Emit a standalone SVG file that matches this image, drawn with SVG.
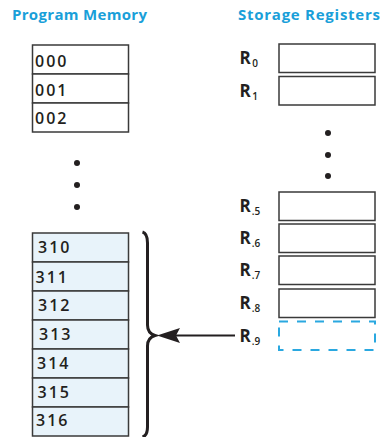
<svg xmlns="http://www.w3.org/2000/svg" width="382" height="437" viewBox="0 0 382 437">
<style>
.title{font-family:"Open Sans","Liberation Sans",sans-serif;font-weight:700;font-size:15px;fill:#1a9fd9}
.cell{fill:#ffffff;stroke:#3a3a3a;stroke-width:1.5}
.cellb{fill:#e8f3fa;stroke:#3a3a3a;stroke-width:1.5}
.num{font-family:"Open Sans","Liberation Sans",sans-serif;font-weight:600;font-size:16px;fill:#231f20;letter-spacing:2px}
.reg{font-family:"Open Sans","Liberation Sans",sans-serif;font-weight:700;font-size:17px;fill:#231f20}
.sub{font-size:10px;font-weight:600}
.dash{fill:none;stroke:#2aa8e0;stroke-width:2;stroke-dasharray:9 9}
.dot{fill:#231f20}
</style>
<text class="title" x="12" y="19.5" textLength="135" lengthAdjust="spacing">Program Memory</text>
<text class="title" x="238" y="19.5" textLength="142" lengthAdjust="spacing">Storage Registers</text>

<g id="pm-top">
<rect class="cell" x="32.5" y="45" width="96" height="29"/>
<rect class="cell" x="32.5" y="74" width="96" height="29"/>
<rect class="cell" x="32.5" y="103" width="96" height="29"/>
<text class="num" x="35" y="66.5">000</text>
<text class="num" x="35" y="95.5">001</text>
<text class="num" x="35" y="124">002</text>
</g>
<g id="pm-dots">
<circle class="dot" cx="77" cy="163" r="3"/>
<circle class="dot" cx="77" cy="185" r="3"/>
<circle class="dot" cx="77" cy="207" r="3"/>
</g>
<g id="pm-bottom">
<rect class="cellb" x="32.5" y="233" width="96" height="29"/>
<rect class="cellb" x="32.5" y="262" width="96" height="29"/>
<rect class="cellb" x="32.5" y="291" width="96" height="29"/>
<rect class="cellb" x="32.5" y="320" width="96" height="29"/>
<rect class="cellb" x="32.5" y="349" width="96" height="29"/>
<rect class="cellb" x="32.5" y="378" width="96" height="29"/>
<rect class="cellb" x="32.5" y="407" width="96" height="29"/>
<text class="num" x="38" y="253">310</text>
<text class="num" x="35.5" y="282.5">311</text>
<text class="num" x="38" y="311">312</text>
<text class="num" x="39" y="339.5">313</text>
<text class="num" x="37" y="368.5">314</text>
<text class="num" x="37.5" y="397.5">315</text>
<text class="num" x="36" y="426">316</text>
</g>

<g id="registers">
<rect class="cell" x="279" y="44" width="96" height="28.5"/>
<rect class="cell" x="279" y="76.5" width="96" height="28.5"/>
<rect class="cell" x="279" y="192" width="96" height="28.5"/>
<rect class="cell" x="279" y="224" width="96" height="28.5"/>
<rect class="cell" x="279" y="256" width="96" height="28.5"/>
<rect class="cell" x="279" y="289" width="96" height="28.5"/>
<rect class="dash" x="279" y="321.5" width="96" height="28.5"/>
<text class="reg" x="239.5" y="64">R<tspan class="sub" dx="1.5" dy="3">0</tspan></text>
<text class="reg" x="239.5" y="96.5">R<tspan class="sub" dx="1.5" dy="3">1</tspan></text>
<text class="reg" x="239.5" y="212">R<tspan class="sub" dx="1" dy="3">.5</tspan></text>
<text class="reg" x="239.5" y="244">R<tspan class="sub" dx="1" dy="3">.6</tspan></text>
<text class="reg" x="239.5" y="276">R<tspan class="sub" dx="1" dy="3">.7</tspan></text>
<text class="reg" x="239.5" y="309">R<tspan class="sub" dx="1" dy="3">.8</tspan></text>
<text class="reg" x="239.5" y="341.5">R<tspan class="sub" dx="1" dy="3">.9</tspan></text>
</g>
<g id="reg-dots">
<circle class="dot" cx="328" cy="133" r="3"/>
<circle class="dot" cx="328" cy="155" r="3"/>
<circle class="dot" cx="328" cy="176" r="3"/>
</g>

<g id="brace">
<path d="M142.5,232 C146,233 147.5,236 147.5,243 L147.5,325 C147.5,331 150,334 155,335.5 C150,337 147.5,340 147.5,346 L147.5,427 C147.5,433 146,436 142.5,437" fill="none" stroke="#231f20" stroke-width="3"/>
</g>
<g id="connectors">
<line x1="235" y1="335.5" x2="175" y2="335.5" stroke="#231f20" stroke-width="2"/>
<path d="M157,335.5 L180,328 L176,335.5 L180,343 Z" fill="#231f20"/>
</g>
</svg>
